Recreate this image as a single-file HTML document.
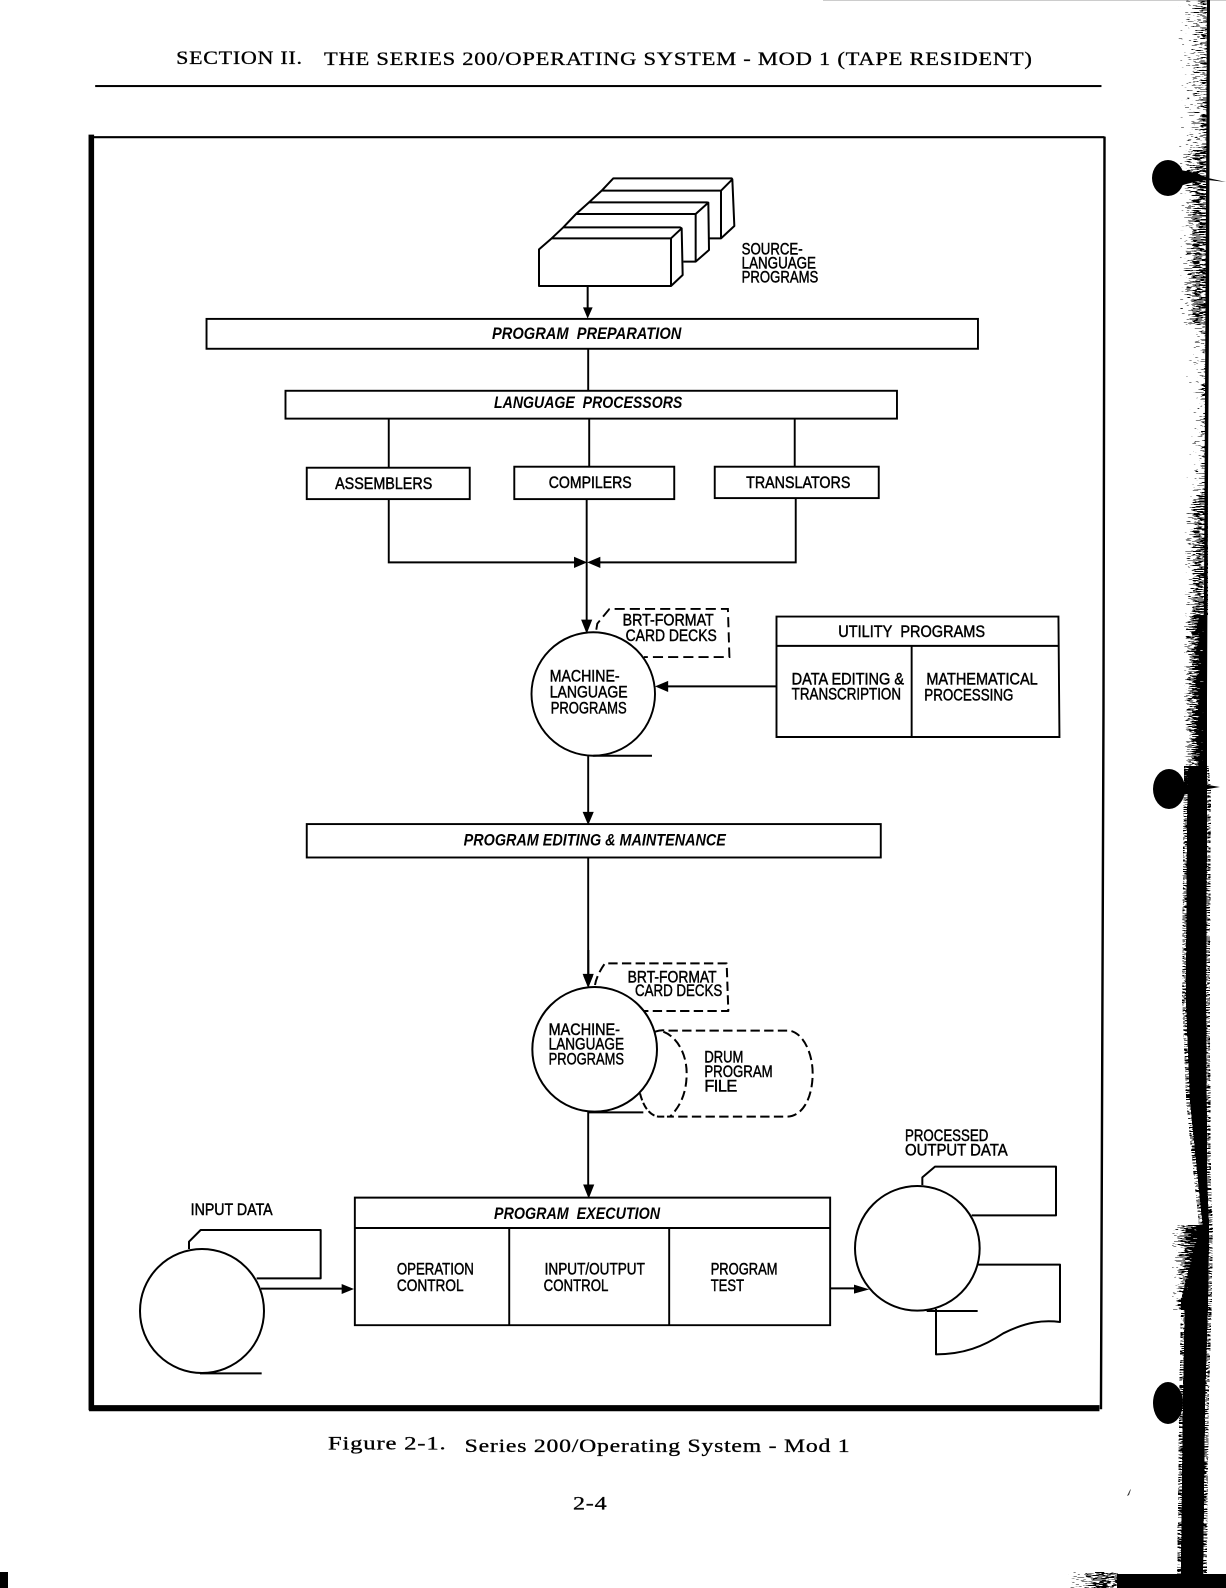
<!DOCTYPE html>
<html><head><meta charset="utf-8">
<style>
html,body{margin:0;padding:0;background:#fff;width:1226px;height:1588px;overflow:hidden}
svg{display:block}
.s{font-family:"Liberation Sans",sans-serif;font-size:16px;fill:#000;stroke:#000;stroke-width:.45}
.i{font-style:italic;font-weight:bold;stroke:none}
.r{font-family:"Liberation Serif",serif;font-size:18.5px;letter-spacing:.6px;fill:#000;stroke:#000;stroke-width:.3}
.z{font-family:"Liberation Sans",sans-serif;font-size:49px;fill:#000;stroke:#000;stroke-width:1.4}
.l{fill:none;stroke:#000;stroke-width:1.9}
.zl{fill:none;stroke:#000;stroke-width:6;stroke-linejoin:round}
.d{stroke-dasharray:28 13}
</style></head><body>
<svg width="1226" height="1588" viewBox="0 0 1226 1588" xmlns="http://www.w3.org/2000/svg">
<defs>
<filter id="n" filterUnits="userSpaceOnUse" x="1050" y="0" width="176" height="1588" color-interpolation-filters="sRGB">
<feTurbulence type="fractalNoise" baseFrequency="0.13 0.95" numOctaves="2" seed="5" result="t"/>
<feColorMatrix in="t" type="matrix" values="0 0 0 0 0  0 0 0 0 0  0 0 0 0 0  1 0 0 0 0" result="a"/>
<feComposite in="SourceGraphic" in2="a" operator="arithmetic" k1="0" k2="1" k3="1" k4="-1" result="c"/>
<feComponentTransfer in="c"><feFuncA type="linear" slope="18" intercept="0"/></feComponentTransfer>
</filter>
<linearGradient id="a55"><stop offset="0" stop-color="#000" stop-opacity=".22"/><stop offset="1" stop-color="#000" stop-opacity=".52"/></linearGradient>
<linearGradient id="a62"><stop offset="0" stop-color="#000" stop-opacity=".25"/><stop offset=".6" stop-color="#000" stop-opacity=".56"/><stop offset="1" stop-color="#000" stop-opacity=".52"/></linearGradient>
<linearGradient id="a48"><stop offset="0" stop-color="#000" stop-opacity=".2"/><stop offset="1" stop-color="#000" stop-opacity=".46"/></linearGradient>
<linearGradient id="a90"><stop offset="0" stop-color="#000" stop-opacity=".3"/><stop offset=".7" stop-color="#000" stop-opacity=".75"/><stop offset="1" stop-color="#000" stop-opacity=".9"/></linearGradient>
</defs>
<rect width="1226" height="1588" fill="#fff"/>

<!-- right binding -->
<rect x="823" y="0" width="403" height="1" fill="#ccc"/>
<g filter="url(#n)">
<rect x="1178" y="0" width="30" height="150" fill="url(#a55)"/>
<rect x="1180" y="150" width="28" height="175" fill="url(#a62)"/>
<rect x="1186" y="325" width="22" height="170" fill="url(#a48)"/>
<rect x="1184" y="495" width="24" height="120" fill="url(#a62)"/>
<rect x="1184" y="615" width="23" height="170" fill="url(#a90)"/>
<rect x="1172" y="1225" width="36" height="85" fill="url(#a90)"/>
<polygon points="1188,770 1205,770 1207,790 1206,1000 1207,1180 1209,1228 1208,1300 1205,1400 1203,1574 1181,1574 1183,1400 1185,1300 1198,1250 1203,1228 1195,1150 1190,1100 1186,1000 1187,830" fill="#000" stroke="#000" stroke-opacity=".5" stroke-width="8"/>
<rect x="1068" y="1572" width="50" height="16" fill="url(#a62)"/>
</g>
<polygon points="1207,0 1210,0 1209,320 1208,480 1207,700 1206,790 1203,790" fill="#000"/>
<polygon points="1192,790 1205,790 1206,1000 1207,1180 1208,1228 1207,1300 1204,1400 1202,1574 1184,1574 1186,1400 1190,1300 1200,1250 1205,1228 1198,1150 1193,1100 1190,1000 1190,830" fill="#000"/>
<ellipse cx="1168" cy="178" rx="16" ry="18" fill="#000"/>
<path d="M1180,170 Q1195,172 1208,178 L1226,182 L1208,180 Q1195,181 1180,186Z" fill="#000"/>
<path d="M1183,785 L1208,785 L1220,787 L1208,789 L1183,795Z" fill="#000"/>
<ellipse cx="1169" cy="789" rx="16" ry="20" fill="#000"/>
<ellipse cx="1168" cy="1403" rx="15" ry="21" fill="#000"/>
<rect x="1117" y="1574" width="109" height="14" fill="#000"/>
<rect x="0" y="1572" width="8" height="16" fill="#000"/>
<path d="M1131,1489 L1129,1495 L1127,1496 L1130,1490Z" fill="#333"/>

<g transform="scale(1.01238)">
<!-- header -->
<text class="r" x="174" y="63" textLength="125" lengthAdjust="spacingAndGlyphs">SECTION II.</text>
<text class="r" x="320" y="64" textLength="700" lengthAdjust="spacingAndGlyphs">THE SERIES 200/OPERATING SYSTEM - MOD 1 (TAPE RESIDENT)</text>
<rect x="94" y="84" width="994" height="2" fill="#000"/>

<!-- frame -->
<path d="M90.2,133 L90.2,1393" stroke="#000" stroke-width="5.5" fill="none"/>
<path d="M91,135.5 L1091,135.5" stroke="#000" stroke-width="2" fill="none"/>
<path d="M1091,135 L1090,700 L1087.5,1392" stroke="#000" stroke-width="2.4" fill="none"/>
<path d="M88,1391 L1086,1391" stroke="#000" stroke-width="6" fill="none"/>

<!-- boxes -->
<rect class="l" x="204" y="315" width="762" height="29.5"/>
<text class="s i" x="486" y="335" textLength="187" lengthAdjust="spacingAndGlyphs">PROGRAM&#160;&#160;PREPARATION</text>
<path class="l" d="M581,344 V386"/>
<rect class="l" x="282" y="386" width="604" height="27.5"/>
<text class="s i" x="488" y="403" textLength="186" lengthAdjust="spacingAndGlyphs">LANGUAGE&#160;&#160;PROCESSORS</text>
<path class="l" d="M384,413 V462 M582,413 V461 M785,413 V461"/>
<rect class="l" x="303" y="462" width="161" height="31"/>
<rect class="l" x="508" y="461" width="158" height="32"/>
<rect class="l" x="706" y="461" width="162" height="31"/>
<text class="s" x="331" y="483" textLength="96" lengthAdjust="spacingAndGlyphs">ASSEMBLERS</text>
<text class="s" x="542" y="482" textLength="82" lengthAdjust="spacingAndGlyphs">COMPILERS</text>
<text class="s" x="737" y="482" textLength="103" lengthAdjust="spacingAndGlyphs">TRANSLATORS</text>
<path class="l" d="M384,493 V555.5 H570 M786,492 V555.5 H590 M579.5,493 V615"/>
<polygon points="567,550 580,555.5 567,561" fill="#000"/>
<polygon points="593,550 580,555.5 593,561" fill="#000"/>
<polygon points="574,612 585,612 579.5,626" fill="#000"/>

<!-- machine language 1 -->
<circle class="l" cx="586" cy="685.5" r="61"/>
<path class="l" d="M586,746.5 H644"/>
<path class="l" style="stroke-dasharray:10 5" d="M589,622 L590,616 L602,601.5 H719 L720.5,649 H636"/>
<text class="s" x="615" y="618" textLength="90" lengthAdjust="spacingAndGlyphs">BRT-FORMAT</text>
<text class="s" x="618" y="633" textLength="90" lengthAdjust="spacingAndGlyphs">CARD DECKS</text>
<text class="s" x="543" y="673" textLength="69" lengthAdjust="spacingAndGlyphs">MACHINE-</text>
<text class="s" x="543" y="689" textLength="77" lengthAdjust="spacingAndGlyphs">LANGUAGE</text>
<text class="s" x="544" y="705" textLength="75" lengthAdjust="spacingAndGlyphs">PROGRAMS</text>
<path class="l" d="M767,678 H655"/>
<polygon points="647,678 660,672.5 660,683.5" fill="#000"/>
<path class="l" d="M767,609 H1045.5 L1046.5,728 H767 Z M767,638 H1045.5 M900.5,638 V728"/>
<text class="s" x="828" y="629" textLength="145" lengthAdjust="spacingAndGlyphs">UTILITY&#160;&#160;PROGRAMS</text>
<text class="s" x="782" y="676" textLength="111" lengthAdjust="spacingAndGlyphs">DATA EDITING &amp;</text>
<text class="s" x="782" y="691" textLength="108" lengthAdjust="spacingAndGlyphs">TRANSCRIPTION</text>
<text class="s" x="915" y="676" textLength="110" lengthAdjust="spacingAndGlyphs">MATHEMATICAL</text>
<text class="s" x="913" y="692" textLength="88" lengthAdjust="spacingAndGlyphs">PROCESSING</text>
<path class="l" d="M581,747 V805"/>
<polygon points="575.5,802 586.5,802 581,815" fill="#000"/>

<rect class="l" x="303" y="814" width="567" height="33"/>
<text class="s i" x="458" y="835" textLength="259" lengthAdjust="spacingAndGlyphs">PROGRAM EDITING &amp; MAINTENANCE</text>
<path class="l" d="M581,847 V966"/>
<polygon points="575.5,962 586.5,962 581,976" fill="#000"/>

<path class="l" d="M581,1098 V1172"/>
<polygon points="576,1170 587,1170 581.5,1184" fill="#000"/>

<!-- program execution -->
<path class="l" d="M350.5,1183 H820 V1309 H350.5 Z M350.5,1213 H820 M503,1213 V1309 M661,1213 V1309"/>
<text class="s i" x="488" y="1204" textLength="164" lengthAdjust="spacingAndGlyphs">PROGRAM&#160;&#160;EXECUTION</text>
<text class="s" x="392" y="1259" textLength="76" lengthAdjust="spacingAndGlyphs">OPERATION</text>
<text class="s" x="392" y="1275" textLength="66" lengthAdjust="spacingAndGlyphs">CONTROL</text>
<text class="s" x="538" y="1259" textLength="99" lengthAdjust="spacingAndGlyphs">INPUT/OUTPUT</text>
<text class="s" x="537" y="1275" textLength="64" lengthAdjust="spacingAndGlyphs">CONTROL</text>
<text class="s" x="702" y="1259" textLength="66" lengthAdjust="spacingAndGlyphs">PROGRAM</text>
<text class="s" x="702" y="1275" textLength="33" lengthAdjust="spacingAndGlyphs">TEST</text>

<!-- caption -->
<text class="r" x="324" y="1432" textLength="117" lengthAdjust="spacingAndGlyphs">Figure 2-1.</text>
<text class="r" x="459" y="1434" textLength="381" lengthAdjust="spacingAndGlyphs">Series 200/Operating System - Mod 1</text>
<text class="r" x="566" y="1491" textLength="34" lengthAdjust="spacingAndGlyphs">2-4</text>
</g>

<!-- source deck (zoom coords) -->
<g transform="translate(500,150) scale(.33333)">
<path class="zl" d="M155,265 L117,298 V408 H513 V265 H155 L190,232 H540 L545,235 L548,375 L513,408 M513,265 L545,235"/>
<path class="zl" d="M190,232 L228,192 H587 V335 H550 M587,192 L625,158 L627,300 L587,335 M228,192 L267,157 H620 L625,158"/>
<path class="zl" d="M267,157 L305,122 H663 V265 H627 M663,122 L697,88 L703,228 L663,265 M305,122 L340,85 H695 L697,88"/>
<path class="zl" d="M263,408 V480"/>
<polygon points="249,472 278,472 263,506" fill="#000"/>
<text class="z" x="725" y="313" textLength="183" lengthAdjust="spacingAndGlyphs">SOURCE-</text>
<text class="z" x="725" y="355" textLength="223" lengthAdjust="spacingAndGlyphs">LANGUAGE</text>
<text class="z" x="725" y="398" textLength="230" lengthAdjust="spacingAndGlyphs">PROGRAMS</text>
</g>

<!-- machine language 2 + drum -->
<g transform="translate(500,950) scale(.33333)">
<path class="zl" d="M265,0 V85"/>
<polygon points="250,78 279,78 265,112" fill="#000"/>
<path class="zl d" d="M285,105 Q290,75 315,40 H680 L685,183 H430"/>
<path class="zl d" d="M465,245 C480,240 490,240 500,242 H870 C910,250 938,310 938,370 C938,440 910,500 860,500 H510"/>
<path class="zl d" d="M490,245 C530,260 560,310 560,370 C560,430 540,470 510,500"/>
<path class="zl d" style="stroke-dasharray:22 8" d="M420,430 C430,470 450,500 480,500 H510"/>
<circle class="zl" cx="284" cy="298" r="187"/>
<path class="zl" d="M265,487 H430"/>
<text class="z" x="383" y="97" textLength="267" lengthAdjust="spacingAndGlyphs">BRT-FORMAT</text>
<text class="z" x="405" y="138" textLength="262" lengthAdjust="spacingAndGlyphs">CARD DECKS</text>
<text class="z" x="146" y="255" textLength="214" lengthAdjust="spacingAndGlyphs">MACHINE-</text>
<text class="z" x="146" y="298" textLength="226" lengthAdjust="spacingAndGlyphs">LANGUAGE</text>
<text class="z" x="146" y="343" textLength="226" lengthAdjust="spacingAndGlyphs">PROGRAMS</text>
<text class="z" x="613" y="338" textLength="117" lengthAdjust="spacingAndGlyphs">DRUM</text>
<text class="z" x="613" y="381" textLength="205" lengthAdjust="spacingAndGlyphs">PROGRAM</text>
<text class="z" x="613" y="425" textLength="99" lengthAdjust="spacing">FILE</text>
</g>

<!-- input data -->
<g transform="translate(80,1180) scale(.33333)">
<circle class="zl" cx="366" cy="393" r="186"/>
<path class="zl" d="M360,580 H545"/>
<path class="zl" d="M327,207 V185 L362,150 H722 V295 H530"/>
<path class="zl" d="M543,326 H790"/>
<polygon points="785,312 785,342 822,327" fill="#000"/>
<text class="z" x="332" y="105" textLength="246" lengthAdjust="spacingAndGlyphs">INPUT DATA</text>
</g>

<!-- output -->
<g transform="translate(830,1120) scale(.33333)">
<circle class="zl" cx="262" cy="385" r="187"/>
<path class="zl" d="M277,195 V172 L315,140 H678 V286 H425"/>
<path class="zl" d="M445,434 H690 V606 C640,600 590,605 520,640 C460,680 400,703 318,703 V567"/>
<path class="zl" d="M290,573 H443"/>
<path class="zl" d="M0,505 H80"/>
<polygon points="72,494 72,521 118,508" fill="#000"/>
<text class="z" x="225" y="63" textLength="250" lengthAdjust="spacingAndGlyphs">PROCESSED</text>
<text class="z" x="225" y="107" textLength="308" lengthAdjust="spacingAndGlyphs">OUTPUT DATA</text>
</g>
</svg>
</body></html>
